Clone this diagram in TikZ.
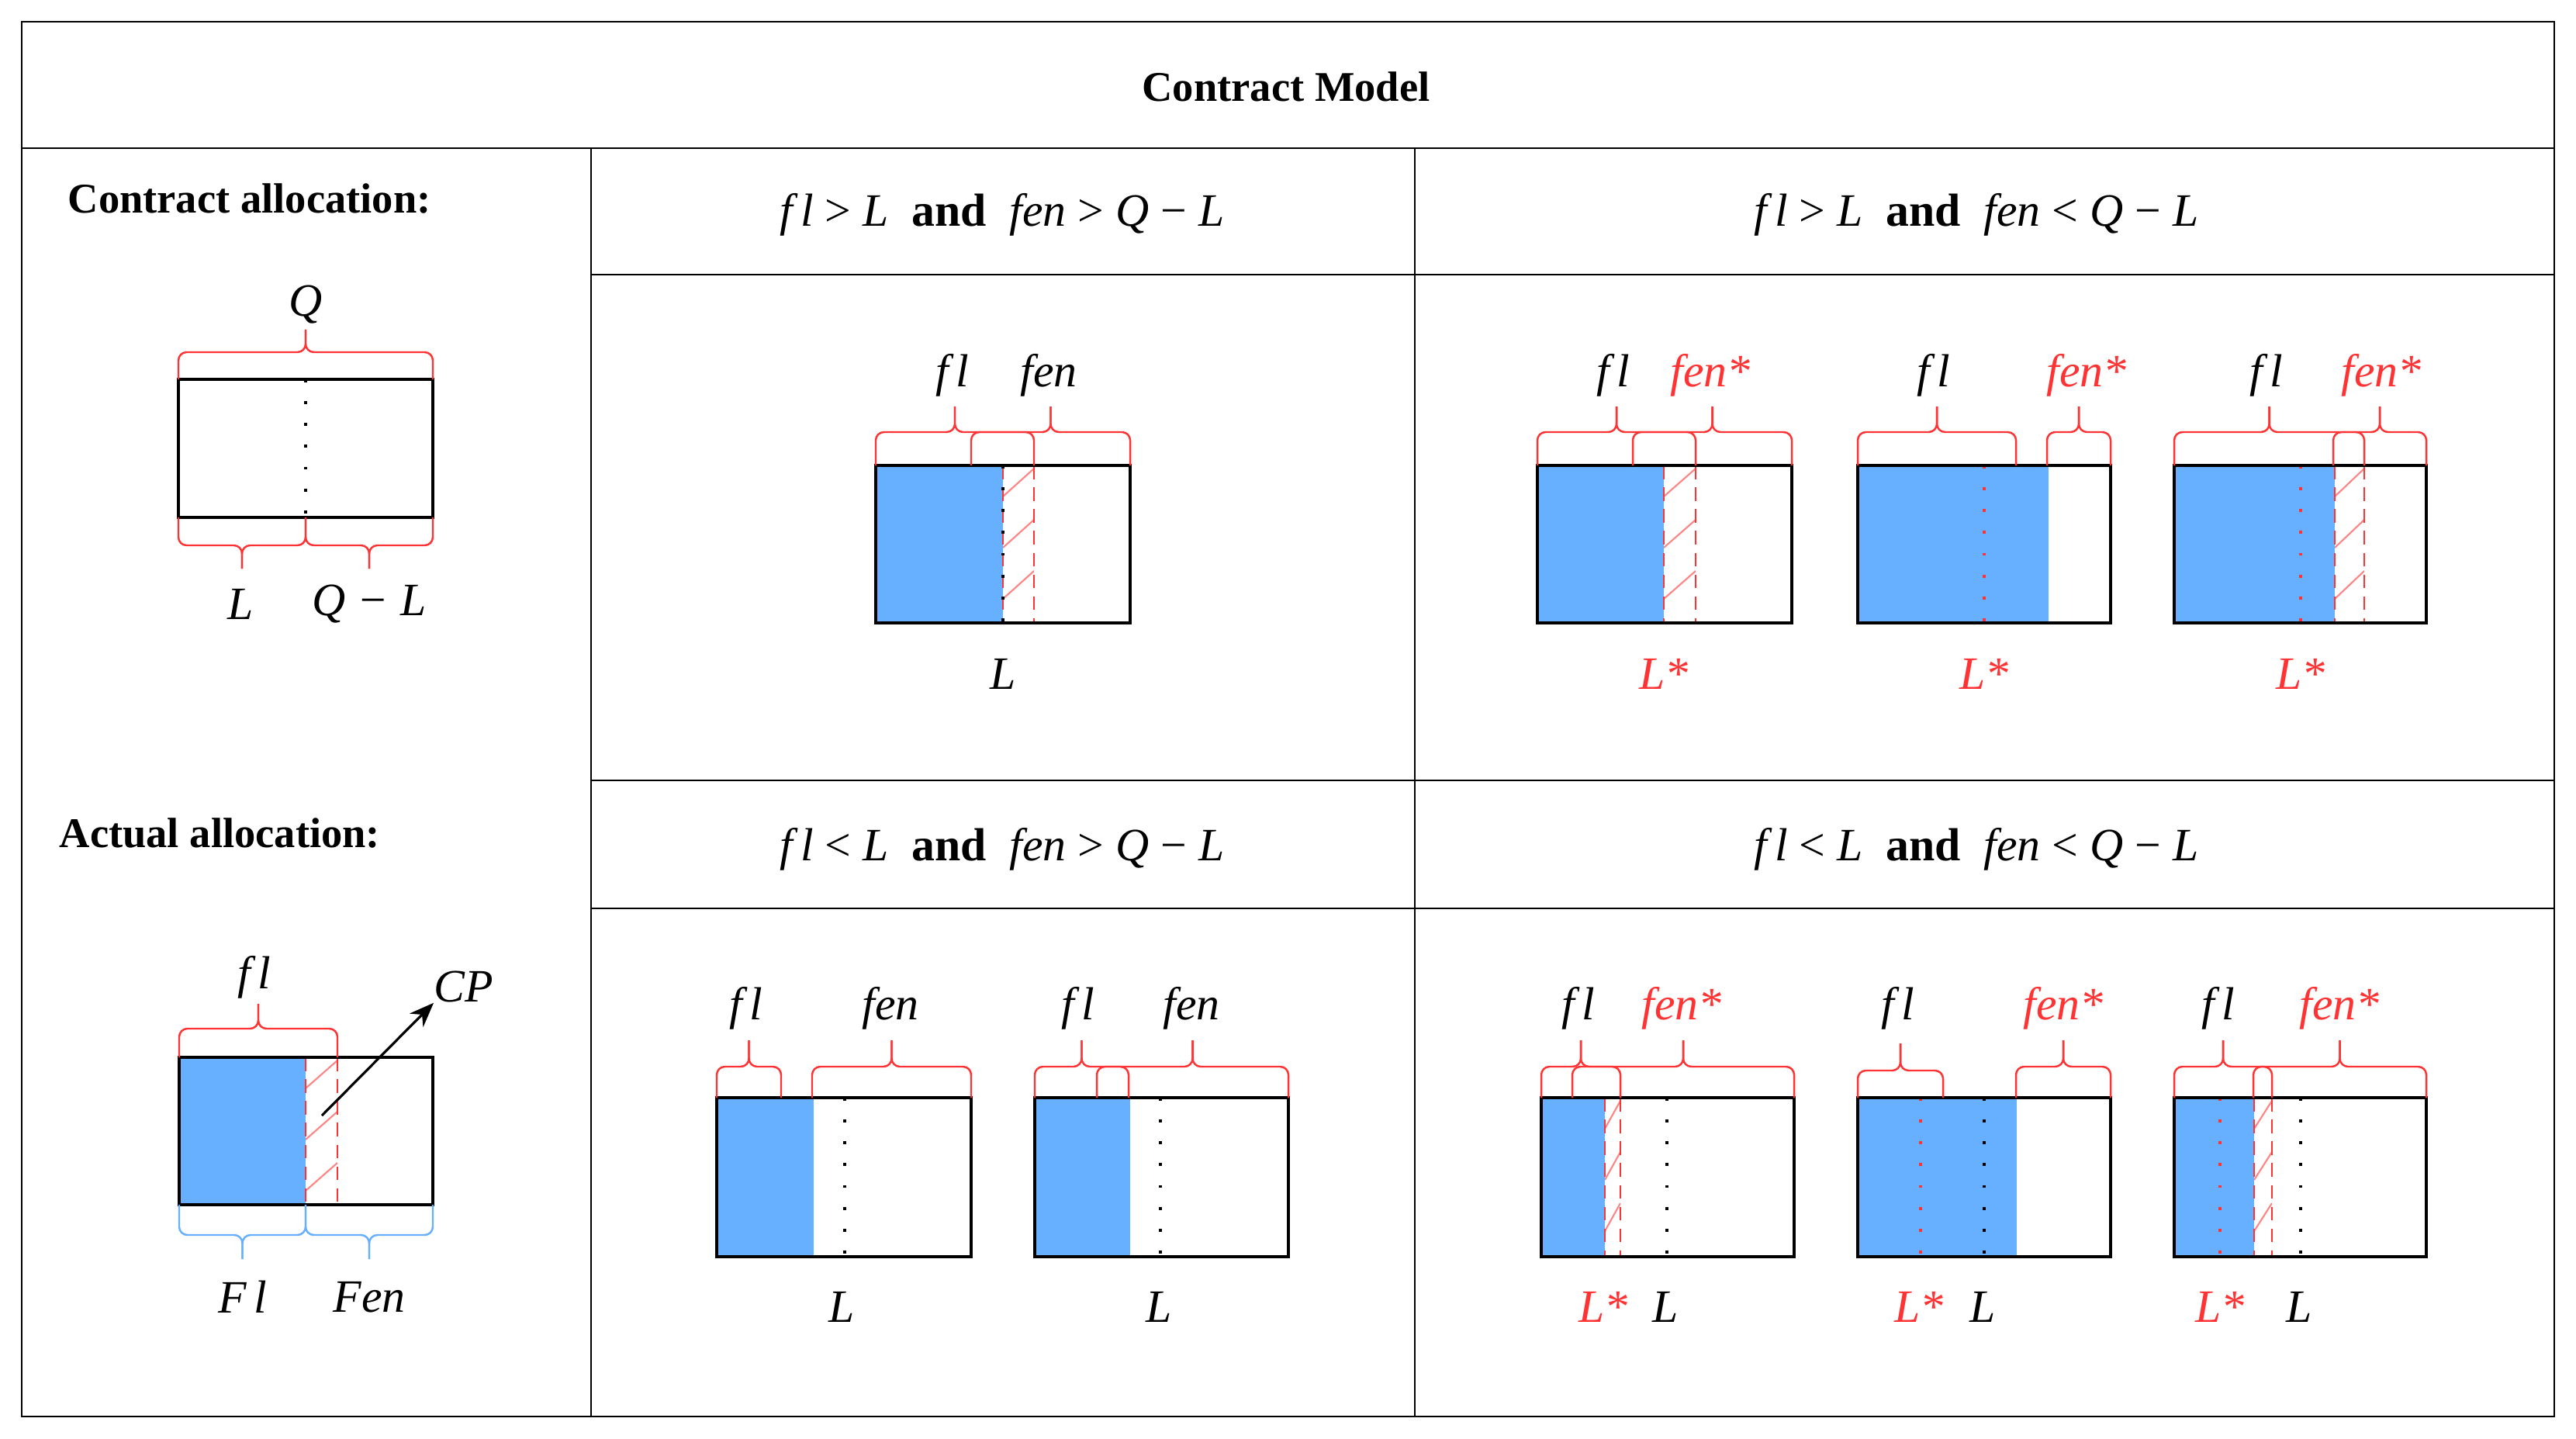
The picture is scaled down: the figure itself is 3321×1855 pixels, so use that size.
\documentclass[tikz,border=0pt]{standalone}
\usepackage{fontspec}
\setmainfont{Liberation Serif}
\usetikzlibrary{arrows.meta}
\definecolor{bblue}{RGB}{102,176,255}
\definecolor{rred}{RGB}{255,51,51}
\newcommand\brc[6]{%
 \draw[#6,line width=0.7pt,rounded corners=3pt] (#1,#3) -- (#1,#4) -- ({(#1+#2)/2},#4) -- ({(#1+#2)/2},#5);
 \draw[#6,line width=0.7pt,rounded corners=3pt] (#2,#3) -- (#2,#4) -- ({(#1+#2)/2},#4) -- ({(#1+#2)/2},#5);}
\newcommand\hatchz[4]{%
 \begin{scope}\clip (#1,#3) rectangle (#2,#4);
 \foreach \k in {0,...,4}{\draw[hatchl] (#1,{#3+40+66*\k}) -- (#2,{#3+4+66*\k});}
 \end{scope}
 \draw[rdash] (#1,#3) -- (#1,#4); \draw[rdash] (#2,#3) -- (#2,#4);}
\begin{document}
\begin{tikzpicture}[x=0.01cm,y=-0.01cm,
  tbl/.style={line width=0.7pt},
  bx/.style={line width=1.1pt},
  bdot/.style={line width=1.2pt,dash pattern=on 1.1pt off 6.9pt},
  rdot/.style={rred,line width=1.2pt,dash pattern=on 1.1pt off 6.9pt},
  rdash/.style={rred,line width=0.7pt,dash pattern=on 5pt off 3pt},
  hatchl/.style={rred!60,line width=0.6pt},
  lab/.style={font=\fontsize{17}{17}\selectfont\itshape,inner sep=0pt},
  rlab/.style={lab,text=rred},
  hd/.style={font=\fontsize{17}{17}\selectfont,inner sep=0pt},
  ttl/.style={font=\fontsize{15.5}{16}\selectfont\bfseries,inner sep=0pt}]
\useasboundingbox (0,0) rectangle (3321,1855);
% table
\draw[tbl] (28,28) rectangle (3293,1826);
\draw[tbl] (28,191) -- (3293,191);
\draw[tbl] (762,191) -- (762,1826);
\draw[tbl] (1824,191) -- (1824,1826);
\draw[tbl] (762,354) -- (3293,354);
\draw[tbl] (762,1006) -- (3293,1006);
\draw[tbl] (762,1171) -- (3293,1171);
\node[ttl] (title) at (1658,112) {Contract Model};
\node[ttl,anchor=west] (ca) at (87,256) {Contract allocation:};
\node[ttl,anchor=west] (aa) at (76,1074) {Actual allocation:};
\node[hd] (h1) at (1292,277) {\textit{f\,l} > \textit{L} \ \textbf{and} \ \textit{fen} > \textit{Q} − \textit{L}};
\node[hd] (h2) at (2548,277) {\textit{f\,l} > \textit{L} \ \textbf{and} \ \textit{fen} < \textit{Q} − \textit{L}};
\node[hd] (h3) at (1292,1095) {\textit{f\,l} < \textit{L} \ \textbf{and} \ \textit{fen} > \textit{Q} − \textit{L}};
\node[hd] (h4) at (2548,1095) {\textit{f\,l} < \textit{L} \ \textbf{and} \ \textit{fen} < \textit{Q} − \textit{L}};
% contract allocation
\draw[bdot] (394,489) -- (394,667);
\draw[bx] (230,489) rectangle (558,667);
\brc{230}{558}{489}{454}{425}{rred}
\brc{230}{394}{667}{703}{733}{rred}
\brc{394}{558}{667}{703}{733}{rred}
\node[lab] (q) at (394,393) {Q};
\node[lab] (l0) at (310,779) {L};
\node[lab] (ql0) at (476,779) {Q − L};
% actual allocation
\fill[bblue] (231,1363) rectangle (394,1553);
\hatchz{394}{435}{1363}{1553}
\draw[bx] (231,1363) rectangle (558,1553);
\brc{231}{435}{1363}{1326}{1294}{rred}
\brc{231}{394}{1553}{1592}{1623}{bblue}
\brc{394}{558}{1553}{1592}{1623}{bblue}
\node[lab] (fla) at (328,1260) {f\,l};
\node[lab] (Fl) at (313,1672) {F\,l};
\node[lab] (Fen) at (476,1672) {Fen};
\node[lab] (cp) at (598,1272) {CP};
\coordinate (cps) at (415,1438);
\draw[line width=0.9pt,-{Stealth[length=9pt,width=7pt]}] (cps) -- (cp.south west);
% ---- top row
% D1
\fill[bblue] (1129,600) rectangle (1293,803);
\hatchz{1293}{1333}{600}{803}
\draw[bdot] (1293,600) -- (1293,803);
\draw[bx] (1129,600) rectangle (1457,803);
\brc{1129}{1333}{600}{557}{524}{rred}
\brc{1252}{1457}{600}{557}{524}{rred}
\node[lab] (d1a) at (1228,484) {f\,l};
\node[lab] (d1b) at (1352,484) {fen};
\node[lab] (d1c) at (1293,869) {L};
% D2
\fill[bblue] (1982,600) rectangle (2145,803);
\hatchz{2145}{2186}{600}{803}
\draw[bx] (1982,600) rectangle (2310,803);
\brc{1982}{2186}{600}{557}{524}{rred}
\brc{2105}{2310}{600}{557}{524}{rred}
\node[lab] (d2a) at (2080,484) {f\,l};
\node[rlab] (d2b) at (2205,484) {fen*};
\node[rlab] (d2c) at (2145,869) {L*};
% D3
\fill[bblue] (2395,600) rectangle (2641,803);
\draw[rdot] (2558,600) -- (2558,803);
\draw[bx] (2395,600) rectangle (2721,803);
\brc{2395}{2599}{600}{557}{524}{rred}
\brc{2639}{2721}{600}{557}{524}{rred}
\node[lab] (d3a) at (2493,484) {f\,l};
\node[rlab] (d3b) at (2690,484) {fen*};
\node[rlab] (d3c) at (2558,869) {L*};
% D4
\fill[bblue] (2803,600) rectangle (3010,803);
\draw[rdot] (2966,600) -- (2966,803);
\hatchz{3010}{3048}{600}{803}
\draw[bx] (2803,600) rectangle (3128,803);
\brc{2803}{3048}{600}{557}{524}{rred}
\brc{3008}{3128}{600}{557}{524}{rred}
\node[lab] (d4a) at (2922,484) {f\,l};
\node[rlab] (d4b) at (3070,484) {fen*};
\node[rlab] (d4c) at (2966,869) {L*};
% ---- bottom row
% D5
\fill[bblue] (924,1415) rectangle (1049,1620);
\draw[bdot] (1089,1415) -- (1089,1620);
\draw[bx] (924,1415) rectangle (1252,1620);
\brc{924}{1007}{1415}{1375}{1341}{rred}
\brc{1047}{1252}{1415}{1375}{1341}{rred}
\node[lab] (d5a) at (962,1300) {f\,l};
\node[lab] (d5b) at (1148,1300) {fen};
\node[lab] (d5c) at (1085,1685) {L};
% D6
\fill[bblue] (1334,1415) rectangle (1457,1620);
\draw[bdot] (1496,1415) -- (1496,1620);
\draw[bx] (1334,1415) rectangle (1661,1620);
\brc{1334}{1455}{1415}{1375}{1341}{rred}
\brc{1414}{1661}{1415}{1375}{1341}{rred}
\node[lab] (d6a) at (1390,1300) {f\,l};
\node[lab] (d6b) at (1536,1300) {fen};
\node[lab] (d6c) at (1494,1685) {L};
% D7
\fill[bblue] (1987,1415) rectangle (2069,1620);
\hatchz{2069}{2089}{1415}{1620}
\draw[bdot] (2149,1415) -- (2149,1620);
\draw[bx] (1987,1415) rectangle (2313,1620);
\brc{1987}{2089}{1415}{1375}{1341}{rred}
\brc{2027}{2313}{1415}{1375}{1341}{rred}
\node[lab] (d7a) at (2035,1300) {f\,l};
\node[rlab] (d7b) at (2168,1300) {fen*};
\node[rlab] (d7c) at (2067,1685) {L*};
\node[lab] (d7d) at (2147,1685) {L};
% D8
\fill[bblue] (2395,1415) rectangle (2600,1620);
\draw[rdot] (2476,1415) -- (2476,1620);
\draw[bdot] (2558,1415) -- (2558,1620);
\draw[bx] (2395,1415) rectangle (2721,1620);
\brc{2395}{2505}{1415}{1380}{1345}{rred}
\brc{2599}{2721}{1415}{1375}{1341}{rred}
\node[lab] (d8a) at (2447,1300) {f\,l};
\node[rlab] (d8b) at (2660,1300) {fen*};
\node[rlab] (d8c) at (2474,1685) {L*};
\node[lab] (d8d) at (2556,1685) {L};
% D9
\fill[bblue] (2803,1415) rectangle (2906,1620);
\draw[rdot] (2862,1415) -- (2862,1620);
\hatchz{2906}{2929}{1415}{1620}
\draw[bdot] (2966,1415) -- (2966,1620);
\draw[bx] (2803,1415) rectangle (3128,1620);
\brc{2803}{2929}{1415}{1375}{1341}{rred}
\brc{2905}{3128}{1415}{1375}{1341}{rred}
\node[lab] (d9a) at (2860,1300) {f\,l};
\node[rlab] (d9b) at (3016,1300) {fen*};
\node[rlab] (d9c) at (2862,1685) {L*};
\node[lab] (d9d) at (2964,1685) {L};
\end{tikzpicture}
\end{document}
